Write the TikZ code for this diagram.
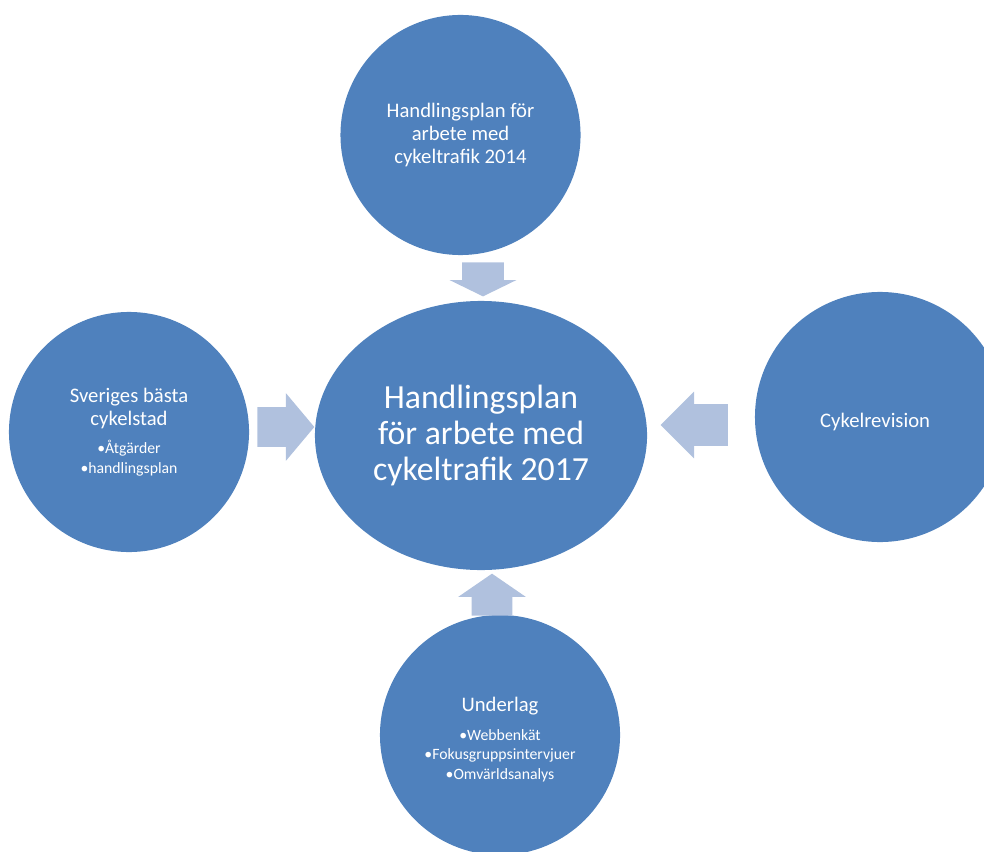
\documentclass[tikz,border=0pt]{standalone}
\usepackage{fontspec}
\setmainfont{Carlito}
\usetikzlibrary{shapes.geometric,shapes.arrows,calc}
\definecolor{CircBlue}{RGB}{79,129,189}
\definecolor{ArrowBlue}{RGB}{176,193,222}
\tikzset{
  bubble/.style={circle,fill=CircBlue,text=white,inner sep=0pt,minimum size=6cm,align=center,font=\fontsize{14.7}{16.4}\selectfont},
  blockarrow/.style={single arrow,fill=ArrowBlue,inner xsep=0pt,anchor=tip}
}
\newcommand{\punkt}[1]{{\fontsize{11.2}{14}\selectfont •#1}}

\begin{document}
\begin{tikzpicture}[x=0.025cm,y=-0.025cm]
      \useasboundingbox (0,0) rectangle (984,852);
      \clip (0,0) rectangle (984,852);
      \node[bubble] (plan14) at (460.5,135) {Handlingsplan för\\arbete med\\cykeltrafik 2014};
      \node[bubble] (stad) at (129,432) {Sveriges bästa\\cykelstad\\[3.5pt]\punkt{Åtgärder}\\[-2.2pt]\punkt{handlingsplan}};
      \node[bubble,minimum size=6.25cm] (rev) at (880,417) {\rule{0pt}{17.5pt}Cykelrevision\hspace*{7pt}};
      \node[bubble] (underlag) at (500,735) {\rule{0pt}{16.4pt}Underlag\\[4.2pt]\punkt{Webbenkät}\\[-2.5pt]\punkt{Fokusgruppsintervjuer}\\[-2.5pt]\punkt{Omvärldsanalys}};
      \node[ellipse,fill=CircBlue,text=white,inner sep=0pt,minimum width=8.3cm,minimum height=6.725cm,align=center,font=\fontsize{24}{25.6}\selectfont] (plan17) at (481,435.5) {Handlingsplan\\för arbete med\\cykeltrafik 2017};
      % pilar mot mitten
      \node[blockarrow,rotate=-90,minimum height=0.85cm,inner ysep=0.5125cm,single arrow head extend=0.3125cm,single arrow tip angle=128] (pil1) at ($(plan17.north)+(2,-4)$) {};
      \node[blockarrow,minimum height=1.425cm,inner ysep=0.4875cm,single arrow head extend=0.35cm,single arrow tip angle=100] (pil2) at ($(plan17.west)+(0,-8.5)$) {};
      \node[blockarrow,rotate=180,minimum height=1.675cm,inner ysep=0.5125cm,single arrow head extend=0.3125cm,single arrow tip angle=90] (pil3) at ($(plan17.east)+(13,-10.5)$) {};
      \node[blockarrow,rotate=90,minimum height=1.05cm,inner ysep=0.5cm,single arrow head extend=0.3375cm,single arrow tip angle=111] (pil4) at ($(plan17.south)+(11,3)$) {};
    \end{tikzpicture}
\end{document}
